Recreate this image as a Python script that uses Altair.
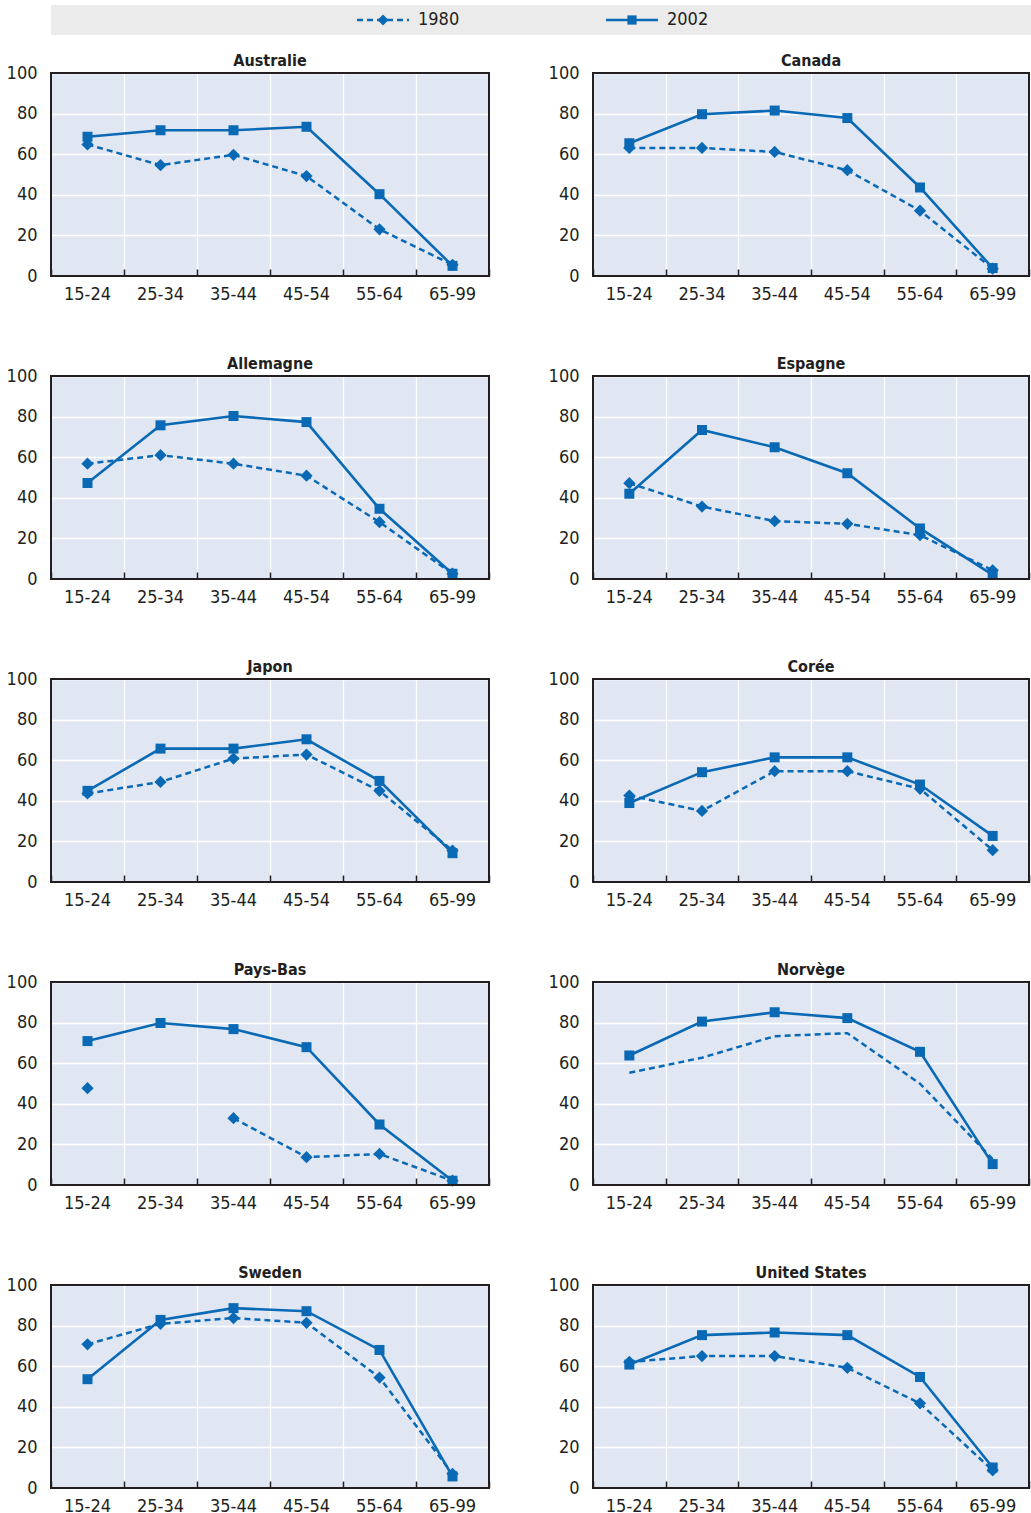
import altair as alt
import pandas as pd

# ---------------- data ----------------
ages = ["15-24", "25-34", "35-44", "45-54", "55-64", "65-99"]
years = ["1980", "2002"]
countries = ["Australie", "Canada", "Allemagne", "Espagne", "Japon",
             "Corée", "Pays-Bas", "Norvège", "Sweden", "United States"]

australie_1980 = [64.8, 54.6, 59.7, 49.2, 23.0, 5.5]
australie_2002 = [68.6, 71.8, 71.8, 73.5, 40.3, 5.0]
canada_1980 = [63.1, 63.1, 61.1, 52.1, 32.2, 3.6]
canada_2002 = [65.4, 79.7, 81.5, 77.8, 43.6, 3.9]
allemagne_1980 = [56.8, 61.0, 56.8, 50.9, 28.0, 2.6]
allemagne_2002 = [47.3, 75.7, 80.3, 77.3, 34.6, 2.6]
espagne_1980 = [47.2, 35.7, 28.5, 27.2, 21.6, 4.3]
espagne_2002 = [42.0, 73.4, 64.9, 52.1, 24.9, 2.0]
japon_1980 = [43.6, 49.3, 60.8, 62.8, 44.9, 15.5]
japon_2002 = [44.9, 65.7, 65.7, 70.3, 49.8, 14.2]
coree_1980 = [42.6, 35.0, 54.6, 54.6, 45.9, 15.7]
coree_2002 = [38.9, 54.1, 61.4, 61.4, 48.0, 22.7]
paysbas_1980 = [47.7, None, 32.9, 13.7, 15.3, 2.1]
paysbas_2002 = [70.9, 79.8, 76.8, 67.9, 29.8, 2.1]
norvege_1980 = [55.3, 62.7, 73.3, 74.8, 49.9, 12.8]
norvege_2002 = [63.8, 80.5, 85.1, 82.2, 65.6, 10.3]
sweden_1980 = [70.8, 80.9, 83.7, 81.4, 54.4, 7.0]
sweden_2002 = [53.6, 82.8, 88.6, 87.1, 68.0, 5.7]
us_1980 = [62.1, 65.0, 65.0, 59.2, 41.7, 8.7]
us_2002 = [60.8, 75.3, 76.6, 75.3, 54.7, 10.1]

series_1980 = [australie_1980, canada_1980, allemagne_1980, espagne_1980, japon_1980,
               coree_1980, paysbas_1980, norvege_1980, sweden_1980, us_1980]
series_2002 = [australie_2002, canada_2002, allemagne_2002, espagne_2002, japon_2002,
               coree_2002, paysbas_2002, norvege_2002, sweden_2002, us_2002]
# 1980 markers are drawn for every country except Norway
markers_1980 = [True, True, True, True, True, True, True, False, True, True]

rows = []
for c, s80, s02, mk in zip(countries, series_1980, series_2002, markers_1980):
    for year, vals, marker in (("1980", s80, mk), ("2002", s02, True)):
        seg = 0
        for a, v in zip(ages, vals):
            if v is None:
                seg += 1
                continue
            rows.append({"country": c, "age": a, "year": year, "value": v,
                         "seg": seg, "marker": marker})
df = pd.DataFrame(rows)

# ---------------- style ----------------
FONT = "Liberation Sans Narrow, Arial Narrow, DejaVu Sans Condensed, Liberation Sans, sans-serif"
BLUE = "#0a69b4"
BG = "#e0e7f3"
DARK = "#231f20"
PLOT_H = 203
LEFT_W = 438
RIGHT_W = 436


def panel(country, width):
    sub = df[df.country == country]
    d80 = sub[sub.year == "1980"]
    d02 = sub[sub.year == "2002"]
    xscale = alt.Scale(type="band", domain=ages, paddingInner=0, paddingOuter=0)
    yscale = alt.Scale(domain=[0, 100], nice=False)
    yaxis = alt.Axis(values=[0, 20, 40, 60, 80, 100], grid=True, gridColor="white",
                     gridWidth=1.3, gridOpacity=1, ticks=False, domain=False,
                     labelPadding=14, minExtent=51, maxExtent=51, title=None,
                     labelFontSize=18, labelColor=DARK, labelFont=FONT)
    xlab = alt.Axis(orient="bottom", ticks=False, grid=False, domain=False,
                    labelPadding=9, labelAngle=0, title=None, labelFontSize=18,
                    labelColor=DARK, labelFont=FONT)
    xtick = alt.Axis(orient="bottom", offset=-7, tickBand="extent", ticks=True,
                     tickSize=7, tickColor=DARK, tickWidth=1.5, grid=True,
                     gridColor="white", gridWidth=1.3, gridOpacity=1,
                     labels=False, domain=False, title=None)
    y = alt.Y("value:Q", scale=yscale, axis=yaxis)

    line80 = alt.Chart(d80).mark_line(color=BLUE, strokeWidth=2.5, strokeDash=[6, 4]).encode(
        x=alt.X("age:N", scale=xscale, axis=xlab, sort=ages),
        y=y,
        detail="seg:N",
    )
    line02 = alt.Chart(d02).mark_line(color=BLUE, strokeWidth=2.6).encode(
        x=alt.X("age:N", scale=xscale, axis=xtick, sort=ages),
        y=y,
    )
    pts80 = alt.Chart(d80[d80.marker]).mark_point(
        shape="diamond", filled=True, size=150, opacity=1, color=BLUE).encode(
        x=alt.X("age:N", scale=xscale, axis=None, sort=ages),
        y=y,
    )
    pts02 = alt.Chart(d02).mark_point(
        shape="square", filled=True, size=100, opacity=1, color=BLUE).encode(
        x=alt.X("age:N", scale=xscale, axis=None, sort=ages),
        y=y,
    )
    frame = alt.Chart(alt.Data(values=[{"f": 1}])).mark_rect(
        filled=False, color=DARK, strokeWidth=2).encode(
        x=alt.value(0), x2=alt.value("width"), y=alt.value(0), y2=alt.value("height"))

    return alt.layer(line80, line02, pts80, pts02, frame).resolve_axis(
        x="independent"
    ).properties(
        width=width, height=PLOT_H,
        title=alt.TitleParams(country, font=FONT, fontSize=16, fontWeight="bold",
                              color=DARK, offset=-5, anchor="middle"),
        view=alt.ViewBackground(fill=BG, stroke="transparent"),
    )


# ---------------- legend ----------------
legend_df = pd.DataFrame({"series": years, "lane": ["legend", "legend"]})
lx = alt.X("series:N", scale=alt.Scale(type="point", domain=years, range=[332, 581], padding=0),
           axis=None)
ly = alt.Y("lane:N", axis=alt.Axis(labels=False, ticks=False, domain=False, grid=False,
                                   title=None, minExtent=51, maxExtent=51))
LINE_PATH = "M-1,0L1,0"
leg_l80 = alt.Chart(legend_df).transform_filter(alt.datum.series == "1980").mark_point(
    shape=LINE_PATH, size=2704, filled=False, strokeWidth=2.5, strokeDash=[6, 4],
    color=BLUE, opacity=1).encode(x=lx, y=ly)
leg_l02 = alt.Chart(legend_df).transform_filter(alt.datum.series == "2002").mark_point(
    shape=LINE_PATH, size=2704, filled=False, strokeWidth=2.6,
    color=BLUE, opacity=1).encode(x=lx, y=ly)
leg_pts = alt.Chart(legend_df).mark_point(filled=True, opacity=1, color=BLUE).encode(
    x=lx, y=ly,
    shape=alt.Shape("series:N", scale=alt.Scale(domain=years, range=["diamond", "square"]), legend=None),
    size=alt.Size("series:N", scale=alt.Scale(domain=years, range=[120, 85]), legend=None),
)
leg_txt = alt.Chart(legend_df).mark_text(
    align="left", baseline="middle", dx=35, fontSize=18, font=FONT, color=DARK).encode(
    x=lx, y=ly, text="series:N")
legend = alt.layer(leg_l80, leg_l02, leg_pts, leg_txt).properties(
    width=980, height=30,
    view=alt.ViewBackground(fill="#ebebeb", stroke="transparent"),
)

# ---------------- layout ----------------
grid_rows = []
for i in range(0, len(countries), 2):
    grid_rows.append(alt.hconcat(panel(countries[i], LEFT_W), panel(countries[i + 1], RIGHT_W),
                                 spacing=52))
body = alt.vconcat(*grid_rows, spacing=53)

chart = alt.vconcat(legend, body, spacing=18).properties(
    padding={"left": 0, "top": 5, "right": 0, "bottom": 0},
    background="white",
).configure_view(strokeWidth=0)

chart.save("out.html", embed_options={"renderer": "svg", "actions": False})
